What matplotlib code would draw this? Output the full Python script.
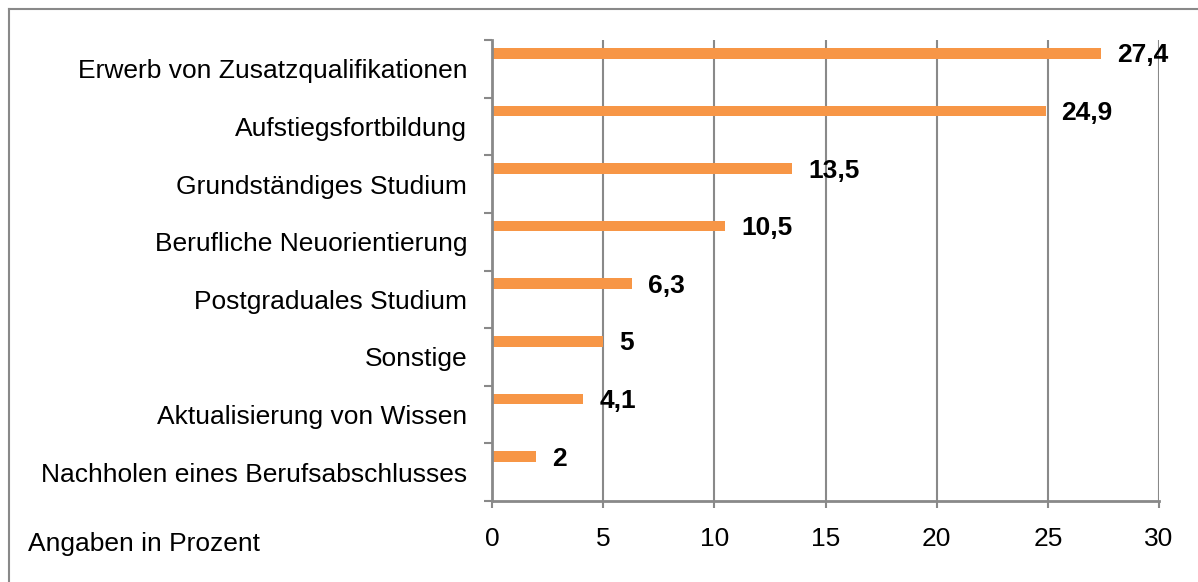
import matplotlib
matplotlib.use("Agg")
import matplotlib.pyplot as plt
from matplotlib.lines import Line2D
import numpy as np

# data (top to bottom as in the chart)
categories = ["Erwerb von Zusatzqualifikationen", "Aufstiegsfortbildung",
              "Grundständiges Studium", "Berufliche Neuorientierung",
              "Postgraduales Studium", "Sonstige",
              "Aktualisierung von Wissen", "Nachholen eines Berufsabschlusses"]
values = [27.4, 24.9, 13.5, 10.5, 6.3, 5, 4.1, 2]
x_ticks = [0, 5, 10, 15, 20, 25, 30]
x_title = "Angaben in Prozent"

plt.rcParams['font.family'] = ['Liberation Sans', 'DejaVu Sans']
gray = '#898989'
orange = '#F79646'

W, H = 1198, 582
fig = plt.figure(figsize=(W/100, H/100), dpi=100)
ax = fig.add_axes([492/W, 1-501/H, (1159-492)/W, (501-40)/H])

pos = np.arange(len(categories))
ax.barh(pos - 0.27, values, height=0.185, color=orange, zorder=3)

for p, v in zip(pos, values):
    ax.annotate(f"{v:g}".replace('.', ','), (v, p - 0.27), xytext=(11.5, -1.5),
                textcoords='offset points', ha='left', va='center',
                fontsize=19, fontweight='bold', color='black', zorder=4)

ax.set_xlim(0, 30)
ax.set_ylim(len(categories) - 0.5, -0.5)
ax.set_xticks(x_ticks)
ax.set_xticklabels([str(t) for t in x_ticks], fontsize=19)
ax.set_yticks(np.arange(len(categories) + 1) - 0.5)
ax.set_yticklabels([])
ax.set_yticks(pos, minor=True)
ax.set_yticklabels(categories, minor=True, fontsize=19)

ax.tick_params(axis='y', which='major', length=6, width=1.5, color=gray, direction='out')
ax.tick_params(axis='y', which='minor', length=0, pad=18)
ax.tick_params(axis='x', which='major', length=5, width=1.5, color=gray, direction='out', pad=14)

ax.grid(axis='x', color=gray, linewidth=1.5, zorder=1)
for s in ['top', 'right']:
    ax.spines[s].set_visible(False)
for s in ['left', 'bottom']:
    ax.spines[s].set_color(gray)
    ax.spines[s].set_linewidth(2)
    ax.spines[s].set_zorder(5)

fig.text(28/W, 1-551/H, x_title, fontsize=19, ha='left', va='baseline')

# outer chart frame (only left and top edges visible)
fig.add_artist(Line2D([9/W, 9/W], [0, 1-9/H], color=gray, lw=1.5))
fig.add_artist(Line2D([9/W, 1], [1-9/H, 1-9/H], color=gray, lw=1.5))

fig.savefig("out.png", dpi=100)
